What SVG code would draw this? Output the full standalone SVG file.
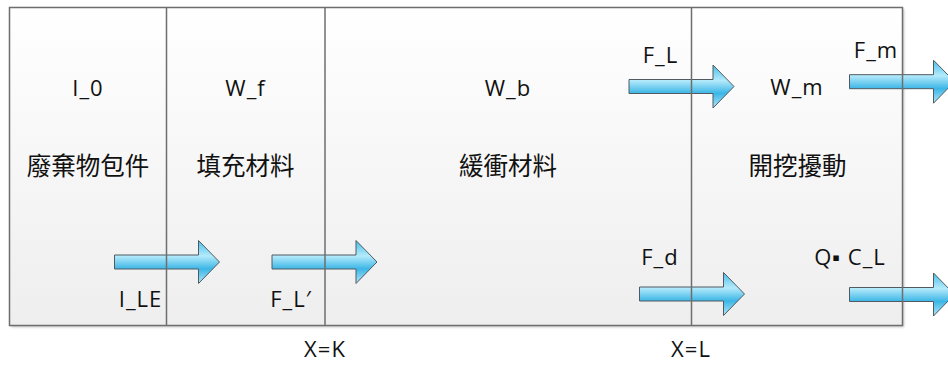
<svg xmlns="http://www.w3.org/2000/svg" width="948" height="365" viewBox="0 0 948 365">
<defs>
<linearGradient id="bg" x1="0" y1="0" x2="0" y2="1">
<stop offset="0" stop-color="#ffffff"/>
<stop offset="1" stop-color="#eeeeee"/>
</linearGradient>
<linearGradient id="ag" x1="0" y1="0" x2="0" y2="1">
<stop offset="0" stop-color="#45bfea"/>
<stop offset="0.36" stop-color="#b4eafb"/>
<stop offset="0.66" stop-color="#3cb6e6"/>
<stop offset="1" stop-color="#b0e8fa"/>
</linearGradient>
<filter id="sh" x="-5%" y="-5%" width="110%" height="115%">
<feDropShadow dx="1.5" dy="1.5" stdDeviation="1.2" flood-color="#000" flood-opacity="0.25"/>
</filter>
<path id="arr" d="M0,-7 L84,-7 L84,-21.5 L105,0 L84,21.5 L84,7 L0,7 Z"/>
</defs>
<style>
.reg{fill:url(#bg);stroke:none}
.ln{fill:none;stroke:#6e6e6e;stroke-width:1.5}
.a{fill:url(#ag);stroke:#505a60;stroke-width:1}
.t{font-family:"Open Sans","Noto Sans",sans-serif;font-size:22px;letter-spacing:1px;fill:#111;text-anchor:middle}
.c{font-family:"Noto Sans CJK TC","Noto Sans CJK SC",sans-serif;font-size:24.5px;fill:#111;text-anchor:middle}
</style>
<rect x="9.5" y="7.5" width="893" height="318" fill="#fff" filter="url(#sh)"/>
<g id="n_package">
<rect class="reg" x="9.5" y="7.5" width="157" height="318"/>
<text class="t" x="88" y="96">I_0</text>
<text class="c" x="88" y="175">廢棄物包件</text>
</g>
<g id="n_backfill">
<rect class="reg" x="166.5" y="7.5" width="158.5" height="318"/>
<text class="t" x="245.5" y="96">W_f</text>
<text class="c" x="245.5" y="175">填充材料</text>
</g>
<g id="n_buffer">
<rect class="reg" x="325" y="7.5" width="366.5" height="318"/>
<text class="t" x="508" y="96">W_b</text>
<text class="c" x="508" y="175">緩衝材料</text>
</g>
<g id="n_edz">
<rect class="reg" x="691.5" y="7.5" width="211" height="318"/>
<text class="t" x="797" y="95">W_m</text>
<text class="c" x="797.5" y="175">開挖擾動</text>
</g>
<g id="connectors">
<use href="#arr" class="a" transform="translate(114.5,262)"/>
<use href="#arr" class="a" transform="translate(272,262)"/>
<use href="#arr" class="a" transform="translate(629,86.5)"/>
<use href="#arr" class="a" transform="translate(849.5,81.7)"/>
<use href="#arr" class="a" transform="translate(639.5,294)"/>
<use href="#arr" class="a" transform="translate(849.5,294.5)"/>
<text class="t" x="140.5" y="307">I_LE</text>
<text class="t" x="291" y="307">F_L′</text>
<text class="t" x="660.5" y="63">F_L</text>
<text class="t" x="876" y="58">F_m</text>
<text class="t" x="660" y="265">F_d</text>
<text class="t" x="850" y="265">Q▪ C_L</text>
</g>
<g id="borders">
<rect class="ln" x="9.5" y="7.5" width="893" height="318"/>
<line class="ln" x1="166.5" y1="7.5" x2="166.5" y2="325.5"/>
<line class="ln" x1="325" y1="7.5" x2="325" y2="325.5"/>
<line class="ln" x1="691.5" y1="7.5" x2="691.5" y2="325.5"/>
</g>
<text class="t" x="325" y="357">X=K</text>
<text class="t" x="691" y="357">X=L</text>
</svg>
